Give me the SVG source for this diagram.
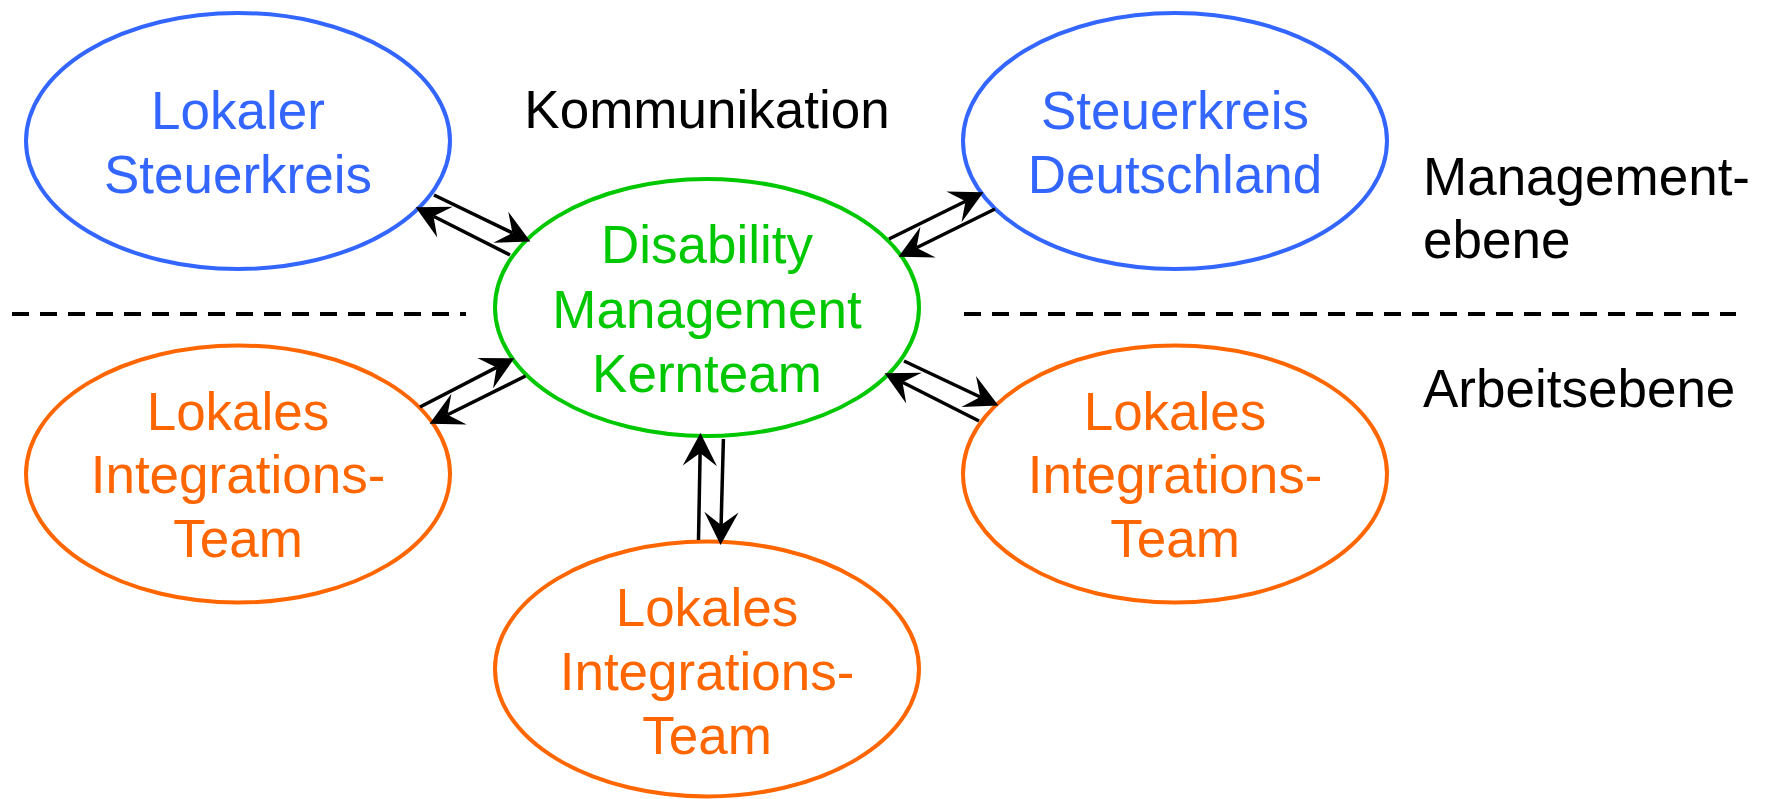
<svg xmlns="http://www.w3.org/2000/svg" width="1767" height="799" viewBox="0 0 1767 799">
<defs>
<style>
text{font-family:"Liberation Sans",Arial,sans-serif;font-size:53px;text-anchor:middle}
.node{fill:none;stroke-width:4}
.blue{stroke:#3366ff}.blueT{fill:#3366ff}
.green{stroke:#00c800}.greenT{fill:#00c800}
.orange{stroke:#ff6600}.orangeT{fill:#ff6600}
.lbl{fill:#000;text-anchor:start}
.conn line{stroke:#000;stroke-width:3.5;marker-end:url(#ah)}
.dash{stroke:#000;stroke-width:4;stroke-dasharray:17 11}
</style>
<marker id="ah" markerUnits="userSpaceOnUse" markerWidth="40" markerHeight="40" viewBox="-12 -14 28 28" refX="0" refY="0" orient="auto">
<path d="M14,0 L-9,-12 L0,0 L-9,12 Z" fill="#000"/>
</marker>
</defs>
<rect width="1767" height="799" fill="#fff"/>
<g id="separators">
<line class="dash" x1="12" y1="314" x2="466" y2="314"/>
<line class="dash" x1="964" y1="314" x2="1736" y2="314"/>
</g>
<g id="labels">
<text x="707" y="128" class="lbl" style="text-anchor:middle">Kommunikation</text>
<text x="1423" y="195" class="lbl">Management-</text>
<text x="1423" y="258" class="lbl">ebene</text>
<text x="1423" y="407" class="lbl">Arbeitsebene</text>
</g>
<g id="lokaler-steuerkreis">
<ellipse class="node blue" cx="238" cy="141" rx="212" ry="128"/>
<text class="blueT" x="238" y="129">Lokaler</text>
<text class="blueT" x="238" y="193">Steuerkreis</text>
</g>
<g id="steuerkreis-deutschland">
<ellipse class="node blue" cx="1175" cy="141" rx="212" ry="128"/>
<text class="blueT" x="1175" y="129">Steuerkreis</text>
<text class="blueT" x="1175" y="193">Deutschland</text>
</g>
<g id="kernteam">
<ellipse class="node green" cx="707" cy="307.5" rx="212" ry="128.5"/>
<text class="greenT" x="707" y="263">Disability</text>
<text class="greenT" x="707" y="328">Management</text>
<text class="greenT" x="707" y="392">Kernteam</text>
</g>
<g id="lit-links">
<ellipse class="node orange" cx="238" cy="474" rx="212" ry="128.5"/>
<text class="orangeT" x="238" y="430">Lokales</text>
<text class="orangeT" x="238" y="493">Integrations-</text>
<text class="orangeT" x="238" y="557">Team</text>
</g>
<g id="lit-rechts">
<ellipse class="node orange" cx="1175" cy="474" rx="212" ry="128.5"/>
<text class="orangeT" x="1175" y="430">Lokales</text>
<text class="orangeT" x="1175" y="493">Integrations-</text>
<text class="orangeT" x="1175" y="557">Team</text>
</g>
<g id="lit-unten">
<ellipse class="node orange" cx="707" cy="669" rx="212" ry="127.5"/>
<text class="orangeT" x="707" y="626">Lokales</text>
<text class="orangeT" x="707" y="690">Integrations-</text>
<text class="orangeT" x="707" y="754">Team</text>
</g>
<g id="connectors" class="conn">
<line x1="434" y1="195" x2="512.4" y2="232.9"/>
<line x1="510" y1="255" x2="433.5" y2="216.3"/>
<line x1="889" y1="239" x2="965.5" y2="201.2"/>
<line x1="995" y1="209" x2="916.5" y2="247.8"/>
<line x1="420" y1="407" x2="496.6" y2="367.4"/>
<line x1="525.5" y1="376" x2="447.5" y2="414.8"/>
<line x1="904" y1="361" x2="980.3" y2="397"/>
<line x1="979" y1="421" x2="902.5" y2="382.3"/>
<line x1="698.5" y1="540" x2="700.1" y2="453"/>
<line x1="723.4" y1="439" x2="721.1" y2="525"/>
</g>
</svg>
